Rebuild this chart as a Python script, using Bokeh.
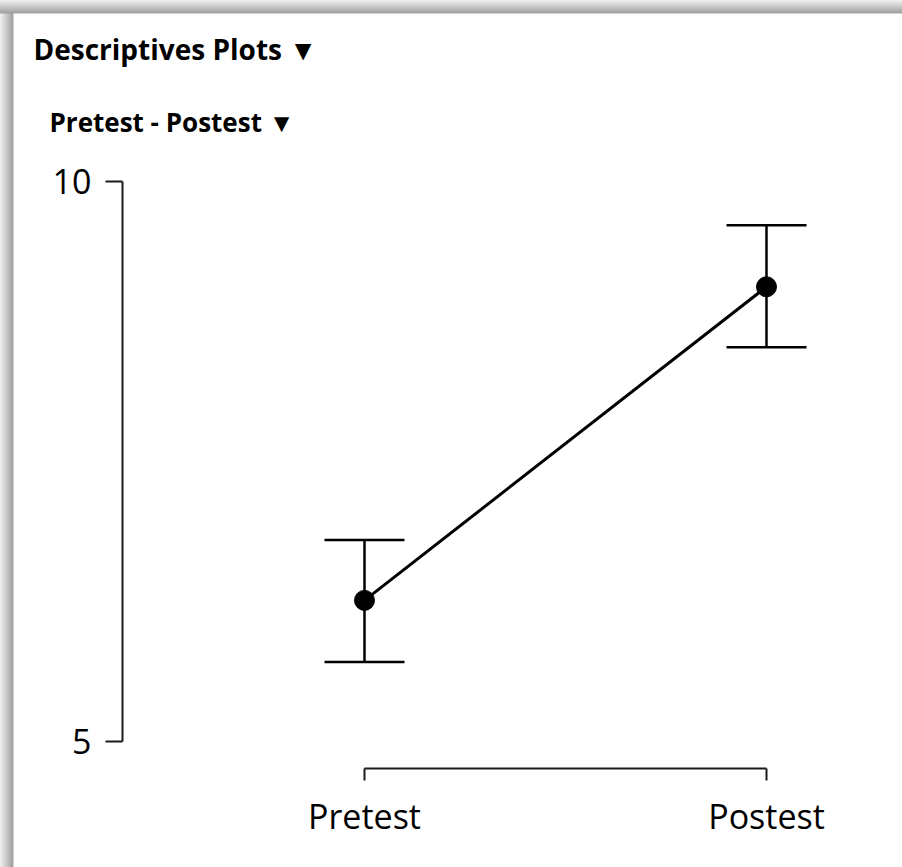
from bokeh.plotting import figure
from bokeh.models import Title, Whisker, TeeHead, FixedTicker, ColumnDataSource, Range1d
from bokeh.embed import file_html
from bokeh.resources import INLINE

# ---- data ----
conditions = ["Pretest", "Postest"]
means = [6.26, 9.06]
ci_lower = [5.71, 8.52]
ci_upper = [6.80, 9.61]
y_ticks = [5, 10]
title_text = "Descriptives Plots \u25BC"
subtitle_text = "Pretest - Postest \u25BC"

x_pos = list(range(len(conditions)))
src = ColumnDataSource(dict(x=x_pos, mean=means, lower=ci_lower, upper=ci_upper))

FONT = "Open Sans"

p = figure(width=902, height=867,
           x_range=Range1d(-0.602, 1.2836), y_range=Range1d(4.759, 10.1875),
           output_backend="svg", toolbar_location=None,
           min_border_left=122, min_border_right=22,
           min_border_top=160, min_border_bottom=99)
p.xgrid.visible = False
p.ygrid.visible = False
p.outline_line_color = None
p.background_fill_color = None
p.border_fill_color = None
p.styles = {
    "background-color": "white",
    "background-image": ("linear-gradient(to bottom, #f2f2f2 0px, #a0a0a0 13px, rgba(255,255,255,0) 14px), "
                         "linear-gradient(to right, #f2f2f2 0px, #a0a0a0 13px, rgba(255,255,255,0) 14px)"),
    "background-repeat": "no-repeat, no-repeat",
    "background-size": "100% 14px, 14px 100%",
}

# titles
p.add_layout(Title(text=subtitle_text, align="left", offset=-73, standoff=42,
                   text_font=FONT, text_font_size="26px", text_font_style="bold",
                   text_color="black"), "above")
p.add_layout(Title(text=title_text, align="left", offset=-89, standoff=25,
                   text_font=FONT, text_font_size="28px", text_font_style="bold",
                   text_color="black"), "above")

AX = "#1a1a1a"

# y axis
ya = p.yaxis[0]
ya.ticker = FixedTicker(ticks=y_ticks)
ya.bounds = (min(y_ticks), max(y_ticks))
ya.major_tick_out = 17
ya.major_tick_in = 0
ya.minor_tick_out = 0
ya.minor_tick_in = 0
ya.major_label_standoff = 14
ya.major_label_text_font = FONT
ya.major_label_text_font_size = "34px"
ya.major_label_text_color = "black"
ya.axis_line_width = 2
ya.major_tick_line_width = 2
ya.axis_line_color = AX
ya.major_tick_line_color = AX

# x axis
xa = p.xaxis[0]
xa.ticker = FixedTicker(ticks=x_pos)
xa.major_label_overrides = {i: c for i, c in zip(x_pos, conditions)}
xa.bounds = (min(x_pos), max(x_pos))
xa.major_tick_out = 12
xa.major_tick_in = 0
xa.minor_tick_out = 0
xa.minor_tick_in = 0
xa.major_label_standoff = 12
xa.major_label_text_font = FONT
xa.major_label_text_font_size = "34px"
xa.major_label_text_color = "black"
xa.axis_line_width = 2
xa.major_tick_line_width = 2
xa.axis_line_color = AX
xa.major_tick_line_color = AX

# error bars
wh = Whisker(source=src, base="x", upper="upper", lower="lower",
             line_color="black", line_width=2.5,
             upper_head=TeeHead(size=80, line_width=2.5, line_color="black"),
             lower_head=TeeHead(size=80, line_width=2.5, line_color="black"))
p.add_layout(wh)

p.line("x", "mean", source=src, line_color="black", line_width=3)
p.scatter("x", "mean", source=src, size=20, fill_color="black", line_color="black")

open("out.html", "w").write(file_html(p, INLINE))
